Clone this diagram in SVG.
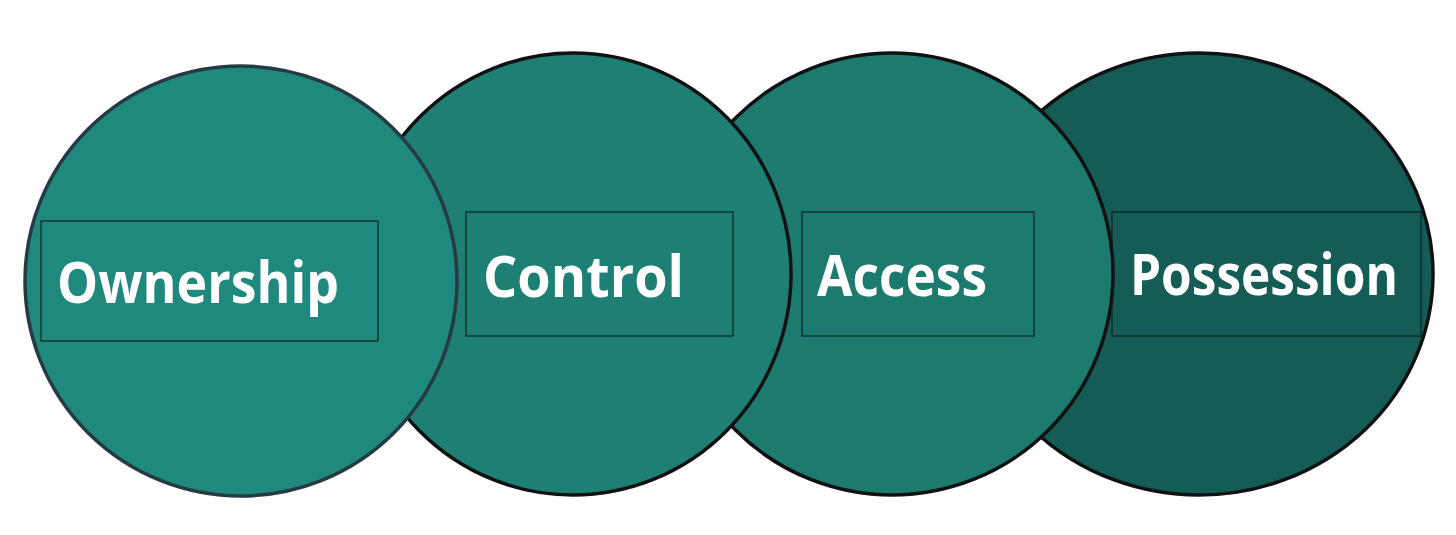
<svg xmlns="http://www.w3.org/2000/svg" width="1456" height="535" viewBox="0 0 1456 535">
<style>
.circ{stroke:#111;stroke-width:3.5}
.box{fill:none;stroke:#0d2220;stroke-width:1.2}
.lbl{font-family:"Open Sans","Noto Sans","Liberation Sans",sans-serif;font-weight:700;font-size:57px;fill:#fff}
</style>
<rect width="1456" height="535" fill="#fff"/>
<g id="possession">
<ellipse class="circ" cx="1199" cy="274" rx="234" ry="221" fill="#145c55"/>
<rect class="box" x="1112" y="212" width="309" height="124"/>
<text class="lbl" x="1130" y="295" textLength="268" lengthAdjust="spacingAndGlyphs">Possession</text>
</g>
<g id="access">
<ellipse class="circ" cx="892" cy="274" rx="221" ry="221" fill="#1c7a6f"/>
<rect class="box" x="802" y="212" width="232" height="124"/>
<text class="lbl" x="817" y="296" textLength="170" lengthAdjust="spacingAndGlyphs">Access</text>
</g>
<g id="control">
<ellipse class="circ" cx="573" cy="274" rx="218" ry="221" fill="#1e8075"/>
<rect class="box" x="466" y="212" width="267" height="124"/>
<text class="lbl" x="483" y="297" textLength="201" lengthAdjust="spacingAndGlyphs">Control</text>
</g>
<g id="ownership">
<ellipse cx="241" cy="281" rx="216" ry="215" fill="#1f897d" stroke="#253a42" stroke-width="3.5"/>
<rect class="box" x="41" y="221" width="337" height="120" stroke="#1a3a3a"/>
<text class="lbl" x="57" y="303" textLength="282" lengthAdjust="spacingAndGlyphs">Ownership</text>
</g>
<g id="connectors"/>
</svg>
